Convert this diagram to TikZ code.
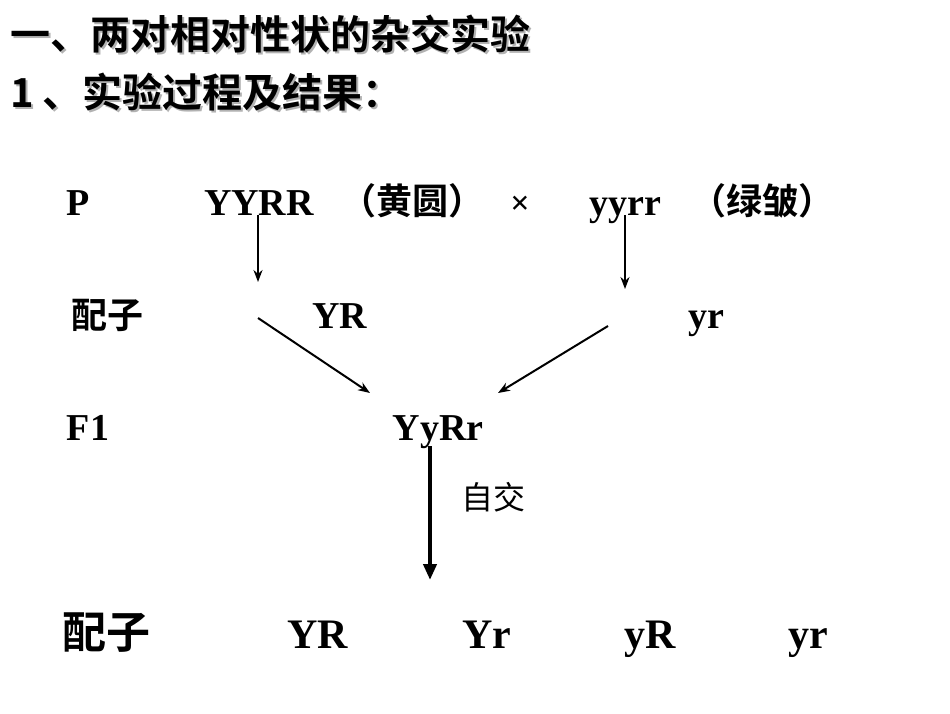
\documentclass[tikz,border=0pt]{standalone}
\usepackage{fontspec}
\usetikzlibrary{arrows.meta}
\setmainfont{Liberation Serif}
\newfontfamily\cjk{Noto Sans CJK SC}
\newfontfamily\cjkb{Noto Sans CJK SC Bold}
\begin{document}
\begin{tikzpicture}[x=1pt,y=-1pt,
  lat/.style={font=\fontsize{38}{40}\selectfont\bfseries,inner sep=0pt,anchor=base},
  latb/.style={font=\fontsize{42}{44}\selectfont\bfseries,inner sep=0pt,anchor=base},
  zh/.style={font=\cjkb\fontsize{36}{38}\selectfont,inner sep=0pt,anchor=base},
  title/.style={font=\cjkb\fontsize{40}{42}\selectfont,inner sep=0pt,anchor=base west},
  arr/.style={-{Stealth[length=12pt,width=9pt]},line width=2pt},
  thick arr/.style={-{Triangle[length=16pt,width=13pt]},line width=4pt}]
\useasboundingbox (0,0) rectangle (950,713);
\node[title,text=gray!60] (t1s) at (12,51) {一、两对相对性状的杂交实验};
\node[title,text=gray!60] (t2s) at (12,109) {1 、实验过程及结果：};
\node[title] (t1) at (10,49) {一、两对相对性状的杂交实验};
\node[title] (t2) at (10,107) {1 、实验过程及结果：};
\node[lat] (p) at (78,215) {P};
\node[lat] (yyrr) at (259,215) {YYRR};
\node[zh] (hy) at (412,214) {（黄圆）};
\node[font=\bfseries\fontsize{34}{36}\selectfont,inner sep=0pt,anchor=base] (x) at (520,214) {×};
\node[lat] (yyrr2) at (625,215) {yyrr};
\node[zh] (lz) at (762,214) {（绿皱）};
\coordinate (g1) at (258,282);
\coordinate (g2) at (625,289);
\draw[arr] (258,215) -- (g1);
\draw[arr] (625,215) -- (g2);
\node[zh] (pz) at (107,328) {配子};
\node[lat] (YR) at (340,328) {YR};
\node[lat] (yr) at (706,328) {yr};
\coordinate (a1) at (258,318); \coordinate (a2) at (608,326);
\node[lat] (f1) at (88,440) {F1};
\node[lat] (f1g) at (438,440) {YyRr};
\draw[arr] (a1) -- (370,393);
\draw[arr] (a2) -- (498,393);
\coordinate (e) at (430,580);
\draw[thick arr] (430,446) -- (e);
\node[font=\cjk\fontsize{32}{34}\selectfont,inner sep=0pt] (zj) at (493,497) {自交};
\node[font=\cjkb\fontsize{44}{46}\selectfont,inner sep=0pt,anchor=base] (pz2) at (106,648) {配子};
\node[latb] (b1) at (318,648) {YR};
\node[latb] (b2) at (487,648) {Yr};
\node[latb] (b3) at (650,648) {yR};
\node[latb] (b4) at (808,648) {yr};
\end{tikzpicture}
\end{document}
